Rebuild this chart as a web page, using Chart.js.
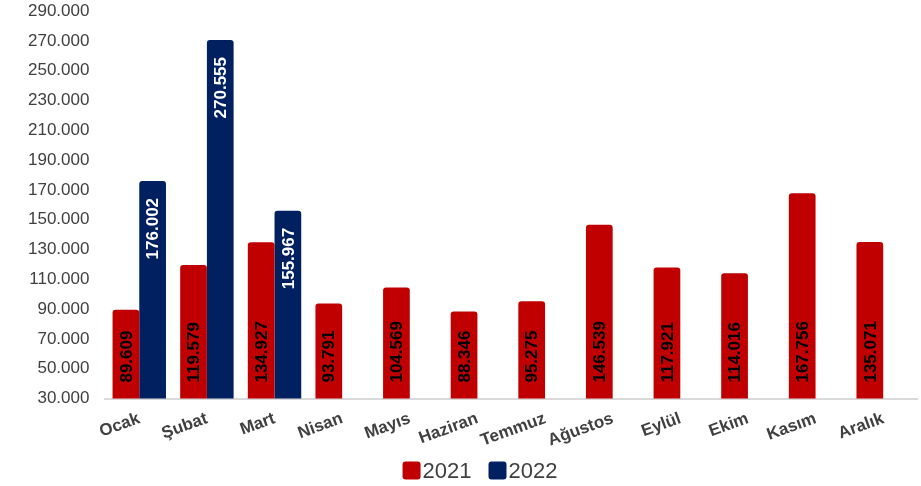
<!DOCTYPE html>
<html lang="tr">
<head>
<meta charset="utf-8">
<title>2021-2022 Aylık Değerler</title>
<script src="https://cdn.jsdelivr.net/npm/chart.js@4/dist/chart.umd.min.js"></script>
<style>
  html, body { margin: 0; padding: 0; background: #ffffff; }
  #wrap { width: 921px; height: 486px; }
</style>
</head>
<body>
<div id="wrap"><canvas id="chart" width="921" height="486"></canvas></div>
<script>
// Months and yearly series
const months = ['Ocak', 'Şubat', 'Mart', 'Nisan', 'Mayıs', 'Haziran', 'Temmuz', 'Ağustos', 'Eylül', 'Ekim', 'Kasım', 'Aralık'];
const values2021 = [89609, 119579, 134927, 93791, 104569, 88346, 95275, 146539, 117921, 114016, 167756, 135071];
const values2022 = [176002, 270555, 155967, null, null, null, null, null, null, null, null, null];
const seriesNames = ['2021', '2022'];
const seriesColors = ['#C00000', '#002060'];
const labelColors = ['#000000', '#ffffff'];
const yMin = 30000;
const yMax = 290000;
const yStep = 20000;

const FONT = '"Liberation Sans", Arial, Helvetica, sans-serif';
const TEXT = '#404040';

// Turkish style thousands separator: 89609 -> "89.609"
function fmt(v) {
  return String(Math.round(v)).replace(/\B(?=(\d{3})+(?!\d))/g, '.');
}

// Vertical value labels inside each bar
const barLabels = {
  id: 'barLabels',
  afterDatasetsDraw(chart) {
    const ctx = chart.ctx;
    const bottom = chart.chartArea.bottom;
    ctx.save();
    ctx.font = 'bold 17px ' + FONT;
    ctx.textBaseline = 'middle';
    chart.data.datasets.forEach((ds, di) => {
      const meta = chart.getDatasetMeta(di);
      meta.data.forEach((bar, i) => {
        const v = ds.data[i];
        if (v == null) return;
        ctx.save();
        ctx.fillStyle = labelColors[di];
        if (di === 0) {
          // anchored near the foot of the bar
          ctx.translate(bar.x, bottom - 16);
          ctx.rotate(-Math.PI / 2);
          ctx.textAlign = 'left';
        } else {
          // anchored just below the top of the bar
          ctx.translate(bar.x, bar.y + 17);
          ctx.rotate(-Math.PI / 2);
          ctx.textAlign = 'right';
        }
        ctx.fillText(fmt(v), 0, 1);
        ctx.restore();
      });
    });
    ctx.restore();
  }
};

// Legend drawn under the axis: rounded squares followed by the year
const bottomLegend = {
  id: 'bottomLegend',
  afterDraw(chart) {
    const ctx = chart.ctx;
    ctx.save();
    ctx.font = '22px ' + FONT;
    ctx.textBaseline = 'middle';
    ctx.textAlign = 'left';
    const box = 18, gapText = 2, gapItem = 17;
    const widths = seriesNames.map(n => box + gapText + ctx.measureText(n).width);
    const total = widths.reduce((a, b) => a + b, 0) + gapItem * (widths.length - 1);
    let x = 480 - total / 2;
    const cy = 470.5;
    seriesNames.forEach((name, i) => {
      ctx.fillStyle = seriesColors[i];
      ctx.beginPath();
      ctx.roundRect(x, cy - box / 2, box, box, 3);
      ctx.fill();
      ctx.fillStyle = TEXT;
      ctx.fillText(name, x + box + gapText, cy + 1);
      x += widths[i] + gapItem;
    });
    ctx.restore();
  }
};

new Chart(document.getElementById('chart'), {
  type: 'bar',
  data: {
    labels: months,
    datasets: [
      {
        label: seriesNames[0],
        data: values2021,
        backgroundColor: seriesColors[0],
        borderRadius: { topLeft: 3, topRight: 3, bottomLeft: 0, bottomRight: 0 },
        borderSkipped: false,
        categoryPercentage: 0.79,
        barPercentage: 1.0
      },
      {
        label: seriesNames[1],
        data: values2022,
        backgroundColor: seriesColors[1],
        borderRadius: { topLeft: 3, topRight: 3, bottomLeft: 0, bottomRight: 0 },
        borderSkipped: false,
        categoryPercentage: 0.79,
        barPercentage: 1.0
      }
    ]
  },
  options: {
    responsive: false,
    animation: false,
    devicePixelRatio: 1,
    layout: { padding: { left: 20, right: 4, top: 0, bottom: 33 } },
    plugins: {
      legend: { display: false },
      tooltip: { enabled: false }
    },
    scales: {
      x: {
        grid: { display: false },
        border: { display: true, color: '#d9d9d9', width: 2 },
        ticks: {
          color: TEXT,
          font: { family: FONT, size: 17, weight: 'bold' },
          minRotation: 20,
          maxRotation: 20,
          padding: 2,
          autoSkip: false
        }
      },
      y: {
        min: yMin,
        max: yMax,
        grid: { display: false },
        border: { display: false },
        // keep the top tick close to the upper edge
        afterFit(scale) { scale.paddingTop = 11; },
        ticks: {
          stepSize: yStep,
          color: TEXT,
          font: { family: FONT, size: 17 },
          padding: 8,
          callback: v => fmt(v)
        }
      }
    }
  },
  plugins: [barLabels, bottomLegend]
});
</script>
</body>
</html>
